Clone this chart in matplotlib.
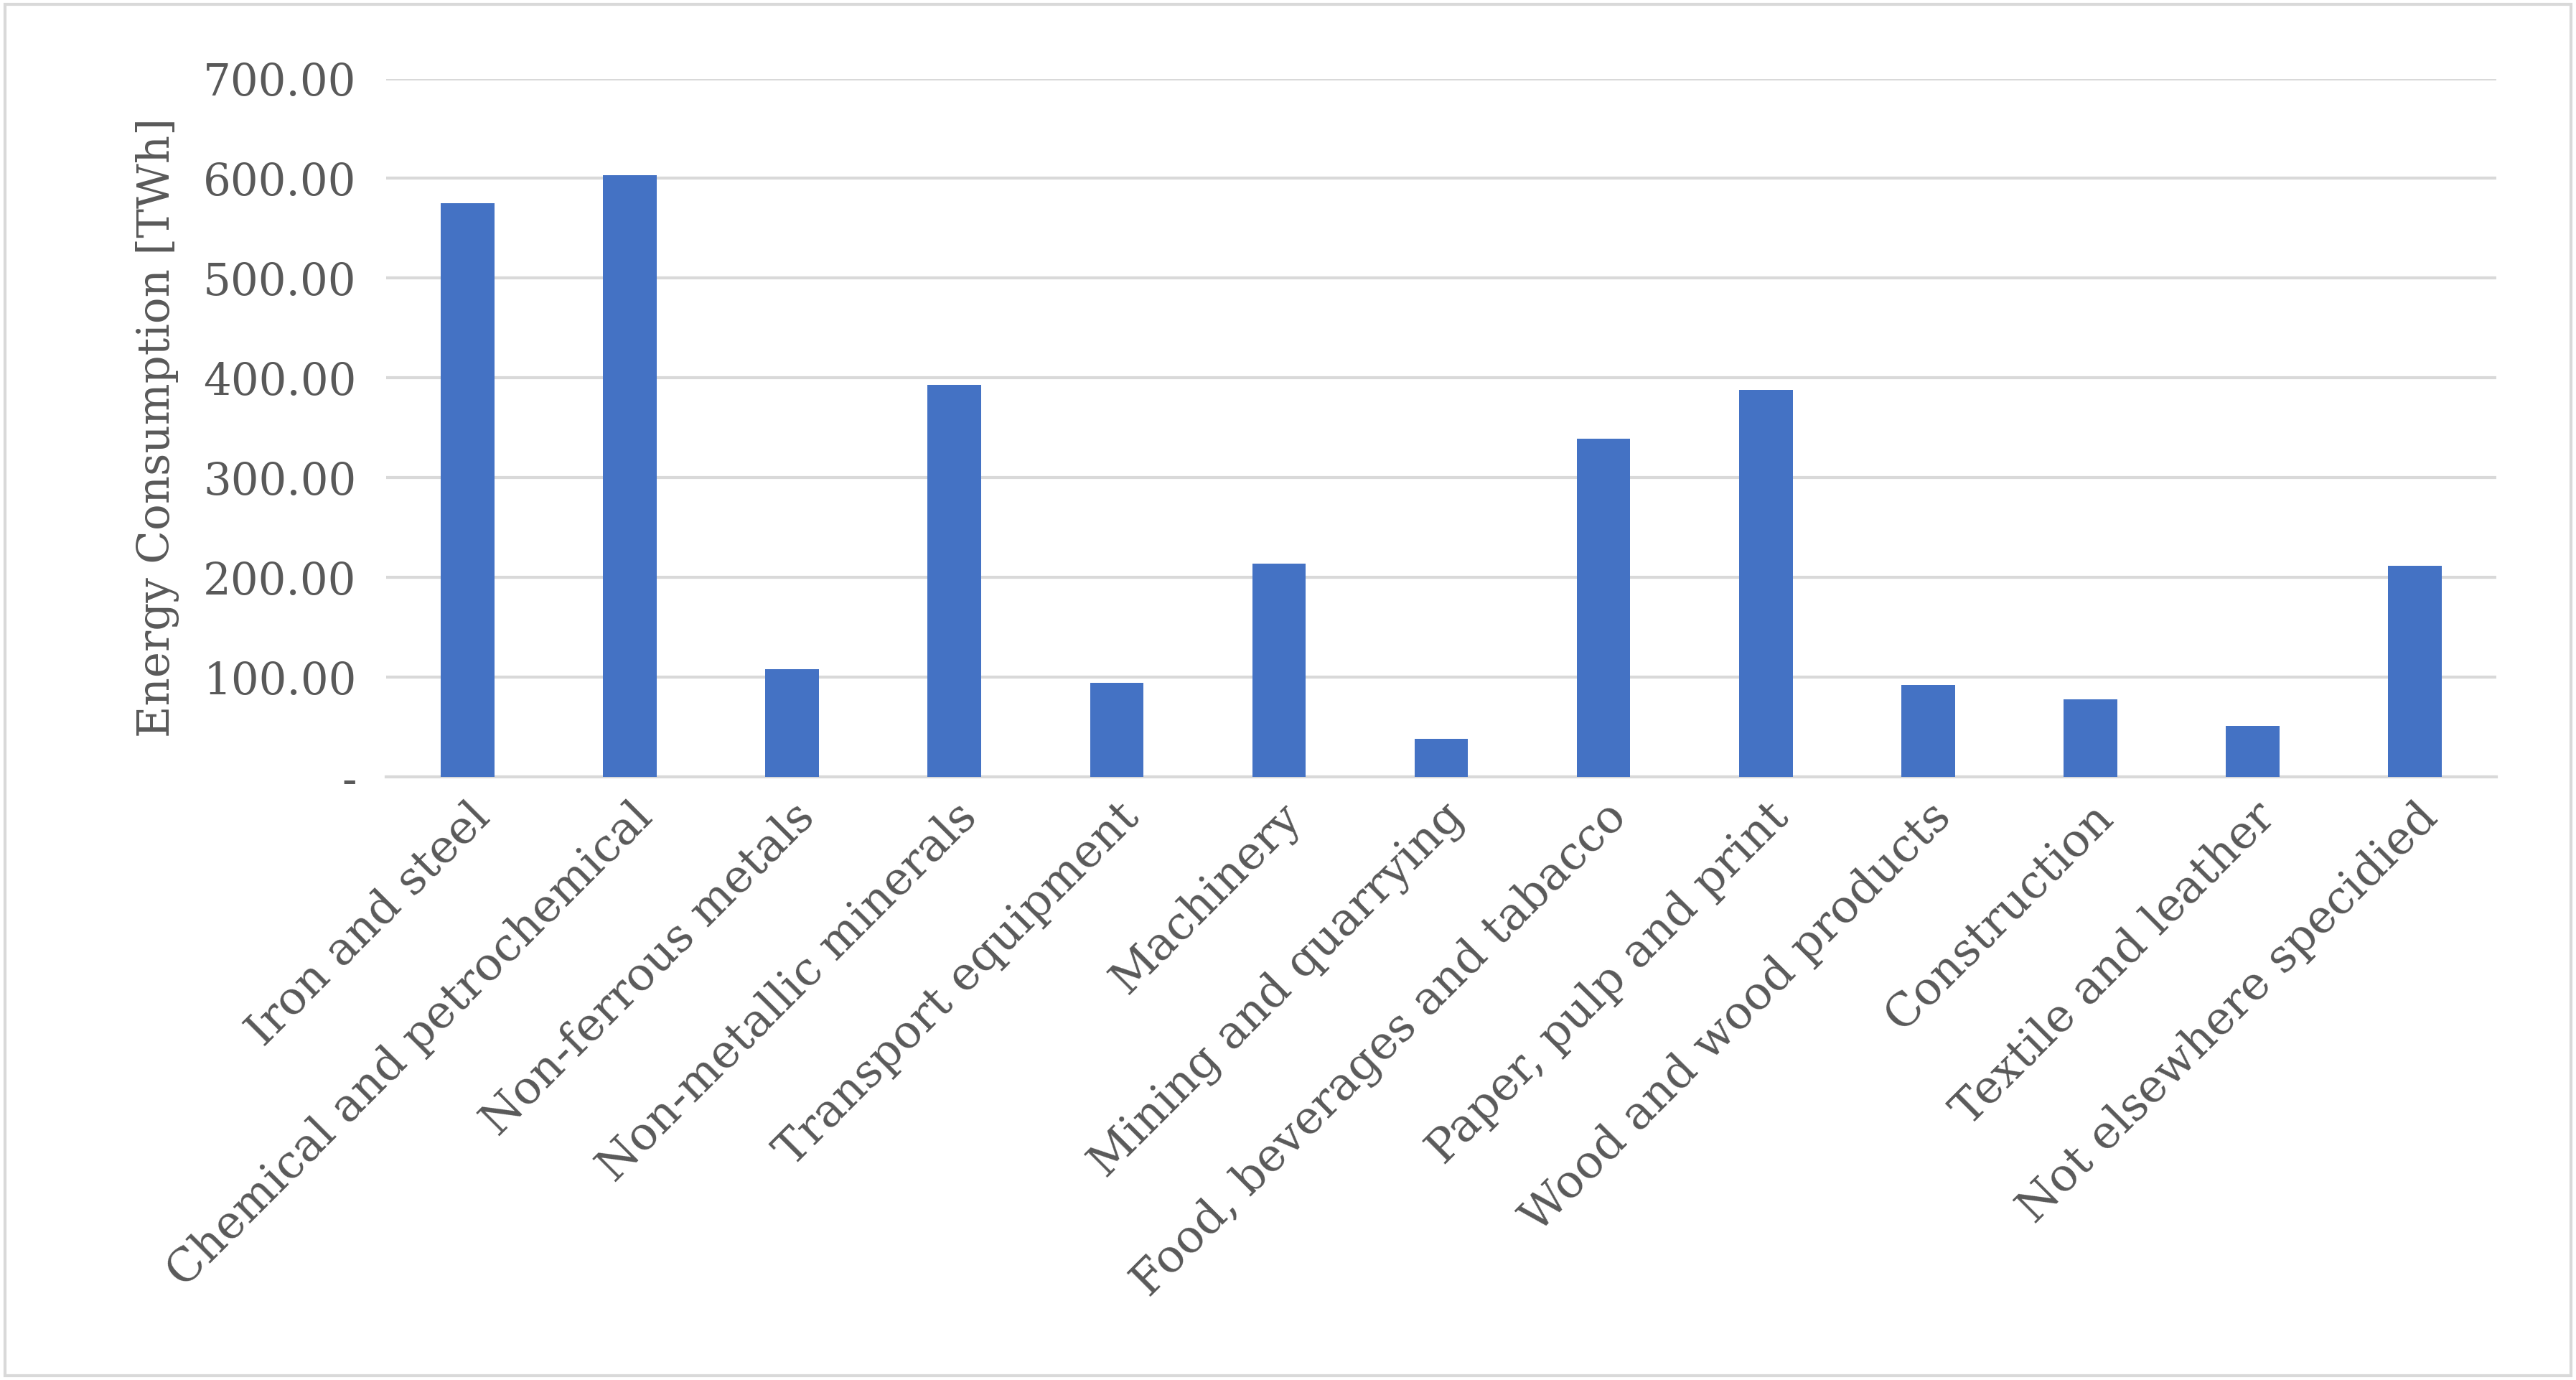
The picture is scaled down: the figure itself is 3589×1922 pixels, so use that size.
import matplotlib
matplotlib.use('Agg')
import matplotlib.pyplot as plt
from matplotlib.patches import Rectangle

categories = ['Iron and steel', 'Chemical and petrochemical', 'Non-ferrous metals',
              'Non-metallic minerals', 'Transport equipment', 'Machinery',
              'Mining and quarrying', 'Food, beverages and tabacco',
              'Paper, pulp and print', 'Wood and wood products', 'Construction',
              'Textile and leather', 'Not elsewhere specidied']
values = [575, 603, 108, 393, 94, 214, 38, 339, 388, 92, 78, 51, 212]
yticks = [0, 100, 200, 300, 400, 500, 600, 700]
ytick_labels = ['-'] + [f'{v:.2f}' for v in yticks[1:]]

plt.rcParams['font.family'] = ['DejaVu Serif']
fig = plt.figure(figsize=(35.89, 19.22), dpi=100)
ax = fig.add_axes([0.15, 0.437, 0.819, 0.506])

ax.bar(range(len(categories)), values, width=0.33, color='#4472C4', zorder=3)
ax.set_xlim(-0.5, len(categories) - 0.5)
ax.set_ylim(0, 700)
ax.set_yticks(yticks)
ax.set_yticklabels(ytick_labels, fontsize=44, color='#595959')
ax.set_xticks(range(len(categories)))
ax.set_xticklabels(categories, rotation=45, ha='right', rotation_mode='anchor',
                   fontsize=46, color='#595959')
ax.tick_params(axis='y', length=0, pad=30)
ax.tick_params(axis='x', length=0, pad=18)
ax.grid(axis='y', color='#D9D9D9', linewidth=3, zorder=0)
for s in ['top', 'right', 'left']:
    ax.spines[s].set_visible(False)
ax.spines['bottom'].set_color('#D9D9D9')
ax.spines['bottom'].set_linewidth(3)
ax.set_ylabel('Energy Consumption [TWh]', fontsize=44, color='#595959', labelpad=24)

fig.patches.append(Rectangle((0.002, 0.003), 0.996, 0.994, transform=fig.transFigure,
                             fill=False, edgecolor='#D9D9D9', linewidth=3))
fig.savefig('out.png', dpi=100)
